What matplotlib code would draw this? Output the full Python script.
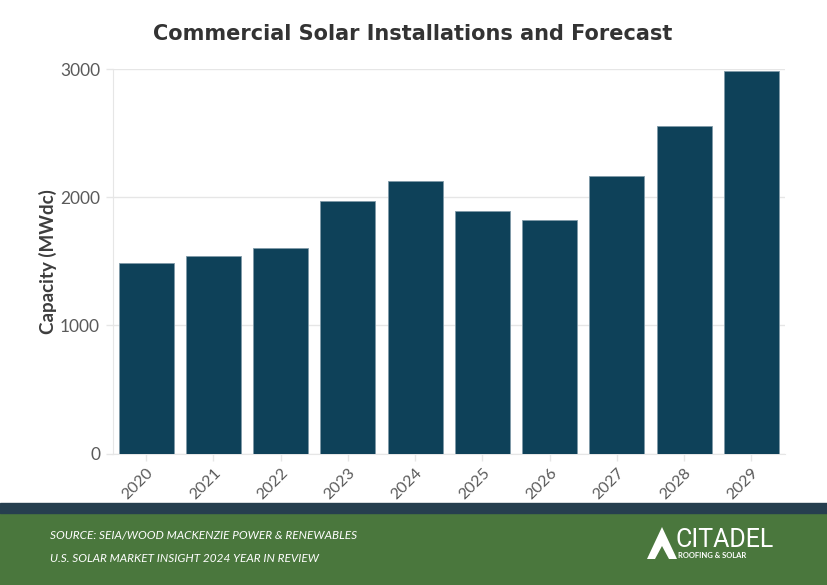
import matplotlib.pyplot as plt
import matplotlib.patches as patches

years = ["2020", "2021", "2022", "2023", "2024", "2025", "2026", "2027", "2028", "2029"]
capacity = [1486, 1538, 1605, 1971, 2130, 1895, 1825, 2164, 2556, 2984]
yticks = [0, 1000, 2000, 3000]

bar_color = "#0e4159"
grey = "#5a5a5a"
grid_color = "#e6e6e6"
green = "#4a773d"

plt.rcParams['font.family'] = ['Lato', 'DejaVu Sans']

fig = plt.figure(figsize=(8.28, 5.85), dpi=100)
ax = fig.add_axes([0.136, 0.2245, 0.812, 0.6575])

x = range(len(years))
ax.bar(x, capacity, width=0.82, color=bar_color, edgecolor="#7f9aa8", linewidth=0.6, zorder=3)

ax.set_xlim(-0.5, 9.5)
ax.set_ylim(0, 3000)
ax.set_yticks(yticks)
ax.set_yticklabels([str(t) for t in yticks], fontsize=12.5, color=grey)
ax.set_xticks(list(x))
ax.set_xticklabels(years, rotation=45, ha="right", rotation_mode="anchor", fontsize=11.5, color=grey)
ax.tick_params(axis="both", length=5, color=grid_color, width=1)
ax.tick_params(axis="y", pad=4)
ax.grid(axis="y", color=grid_color, linewidth=1, zorder=0)

for side in ["top", "right"]:
    ax.spines[side].set_visible(False)
ax.spines["left"].set_color(grid_color)
ax.spines["bottom"].set_color(grid_color)

ax.set_ylabel("Capacity (MWdc)", fontsize=13.5, fontweight="bold", color="#3d3d3d", labelpad=2)

fig.text(0.4985, 0.942, "Commercial Solar Installations and Forecast", ha="center", va="center",
         fontsize=15, fontweight="bold", color="#333333", family="DejaVu Sans")

# footer
fig.add_artist(patches.Rectangle((0, 0), 1, 72 / 585, transform=fig.transFigure,
                                 color=green, zorder=0))
fig.add_artist(patches.Rectangle((0, 72 / 585), 1, 10 / 585, transform=fig.transFigure,
                                 color="#263f4f", zorder=0))

fig.text(50 / 828, 1 - 535 / 585, "SOURCE: SEIA/WOOD MACKENZIE POWER & RENEWABLES",
         fontsize=8.5, style="italic", color="white", va="center")
fig.text(50 / 828, 1 - 558 / 585, "U.S. SOLAR MARKET INSIGHT 2024 YEAR IN REVIEW",
         fontsize=8.5, style="italic", color="white", va="center")

# logo
fig.text(676 / 828, 1 - 540 / 585, "CITADEL", fontsize=18, color="white", va="center",
         ha="left", family="Roboto")
fig.text(678 / 828, 1 - 556 / 585, "ROOFING & SOLAR", fontsize=5.5, color="white", va="center",
         ha="left", fontweight="bold")
tri_outer = [(647, 559), (662, 527), (677, 559)]
tri_inner = [(655, 559), (662, 546), (669, 559)]
fig.add_artist(patches.Polygon([(px / 828, 1 - py / 585) for px, py in tri_outer],
                               transform=fig.transFigure, closed=True, fc="white", ec="none"))
fig.add_artist(patches.Polygon([(px / 828, 1 - py / 585) for px, py in tri_inner],
                               transform=fig.transFigure, closed=True, fc=green, ec="none"))

fig.savefig("out.png", dpi=100)
